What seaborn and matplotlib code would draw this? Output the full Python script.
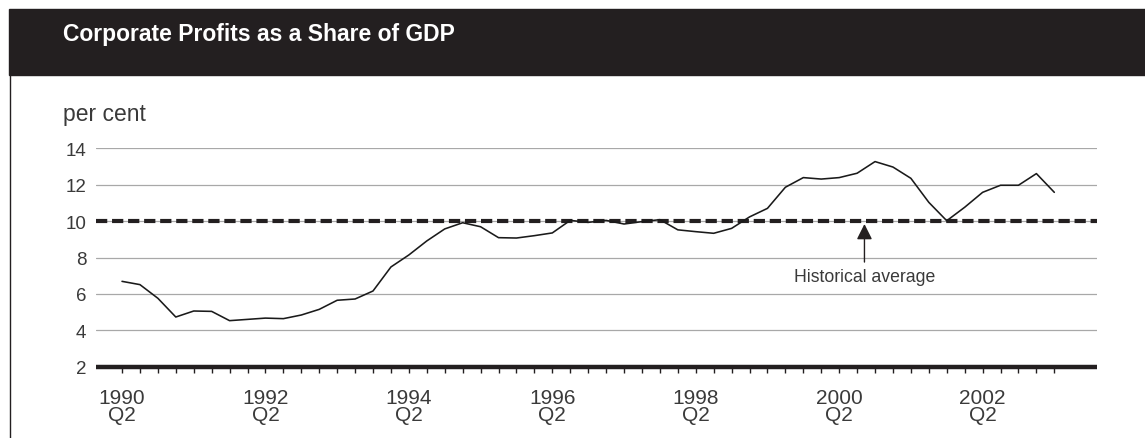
import matplotlib
matplotlib.use("Agg")
import matplotlib.pyplot as plt
from matplotlib.patches import Rectangle
from matplotlib.lines import Line2D
import numpy as np
import pandas as pd
import seaborn as sns

# Quarterly corporate profits as a share of GDP, 1990 Q2 - 2003 Q2 (per cent)
quarters = [str(p) for p in pd.period_range("1990Q2", "2003Q2", freq="Q")]
profit_share = [
    6.69, 6.51, 5.76, 4.73, 5.06, 5.04, 4.53, 4.60, 4.67, 4.64,
    4.84, 5.15, 5.65, 5.72, 6.16, 7.48, 8.14, 8.91, 9.57, 9.91,
    9.69, 9.09, 9.07, 9.20, 9.35, 10.04, 9.93, 10.04, 9.84, 9.97,
    10.08, 9.52, 9.42, 9.33, 9.60, 10.23, 10.70, 11.86, 12.39, 12.31,
    12.39, 12.63, 13.27, 12.97, 12.35, 11.03, 10.02, 10.76, 11.58, 11.97,
    11.97, 12.61, 11.58,
]
historical_average = 10.0
year_labels = ["1990\nQ2", "1992\nQ2", "1994\nQ2", "1996\nQ2",
               "1998\nQ2", "2000\nQ2", "2002\nQ2"]
y_ticks = [2, 4, 6, 8, 10, 12, 14]

df = pd.DataFrame({"quarter": quarters,
                   "idx": np.arange(len(quarters)),
                   "share": profit_share})

sns.set_theme(style="white")
plt.rcParams["font.family"] = ["Liberation Sans", "DejaVu Sans"]

W, H = 1145, 439
fig = plt.figure(figsize=(W / 100, H / 100), dpi=100)
fig.patch.set_facecolor("white")

dark = "#231f20"
text_col = "#3a3a3a"

# header band and left rule
fig.patches.append(Rectangle((9 / W, 1 - 76 / H), 1, 66 / H,
                             transform=fig.transFigure, color=dark, zorder=0))
fig.lines.append(Line2D([9.5 / W, 9.5 / W], [0, 1 - 76 / H],
                        transform=fig.transFigure, color=dark, lw=1.0))
fig.text(63 / W, 1 - 41 / H, "Corporate Profits as a Share of GDP",
         color="white", fontsize=16.5, fontweight="bold",
         va="baseline", ha="left")
fig.text(63 / W, 1 - 121 / H, "per cent", color=text_col, fontsize=16.5,
         va="baseline", ha="left")

ax = fig.add_axes([96 / W, 71.3 / H, 1001 / W, 218.4 / H])
ax.set_xlim(-1.45, 54.38)
ax.set_ylim(2, 14)

ax.set_yticks(y_ticks)
ax.yaxis.grid(True, color="#a8a8a8", lw=0.9)
ax.set_axisbelow(True)
for s in ax.spines.values():
    s.set_visible(False)

sns.lineplot(data=df, x="idx", y="share", ax=ax, color="#1a1a1a",
             lw=1.15, zorder=4)

ax.axhline(historical_average, color=dark, lw=3.0,
           dashes=(2.7, 1.15), dash_capstyle="butt", zorder=3)
ax.axhline(2, color=dark, lw=3.2, zorder=5, clip_on=False,
           solid_capstyle="butt")

ax.annotate("", xy=(41.41, 9.84), xytext=(41.41, 7.75),
            arrowprops=dict(arrowstyle="-|>,head_length=0.47,head_width=0.235",
                            mutation_scale=20, color=dark, lw=1.0,
                            shrinkA=0, shrinkB=0))
ax.text(41.41, 6.93, "Historical average", ha="center", va="center",
        fontsize=12.7, color=text_col)

tick_pos = df["idx"].tolist()
tick_lab = [""] * len(tick_pos)
for k, lab in enumerate(year_labels):
    tick_lab[k * 8] = lab
ax.set_xticks(tick_pos)
ax.set_xticklabels(tick_lab)
ax.tick_params(axis="x", direction="out", length=4.6, width=1.0,
               colors=dark, pad=10.5, labelsize=15, labelcolor=text_col,
               bottom=True)
for t in ax.get_xticklabels():
    t.set_linespacing(0.9)
ax.tick_params(axis="y", length=0, pad=7, labelsize=13.5,
               labelcolor=text_col)
ax.set_xlabel("")
ax.set_ylabel("")

fig.savefig("out.png", dpi=100)
